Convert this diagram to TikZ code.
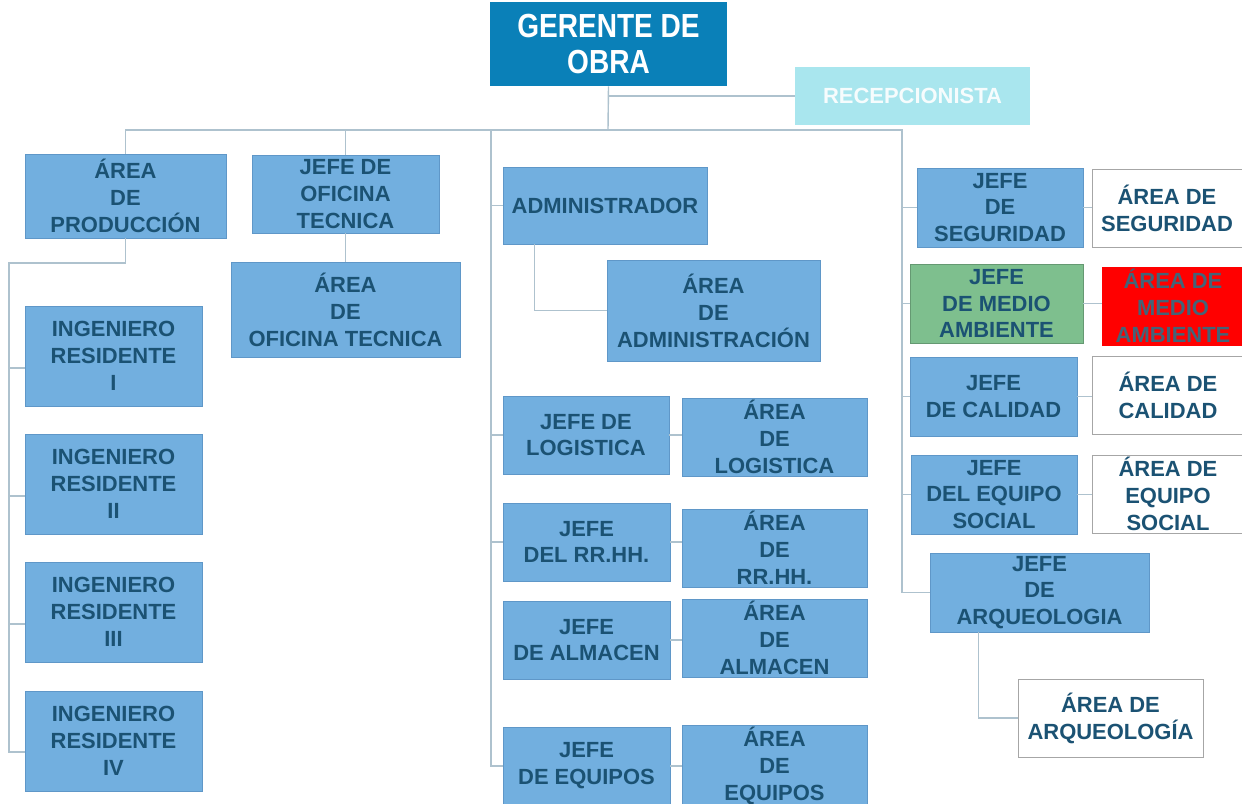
\documentclass[tikz,border=0pt]{standalone}
\usepackage{fontspec}
\setmainfont{Liberation Sans}
\newfontfamily\angosta[FakeStretch=0.84]{Liberation Sans}
\usetikzlibrary{positioning}

\definecolor{cajazul}{HTML}{72AFDF}
\definecolor{bordeazul}{HTML}{5F97C8}
\definecolor{textazul}{HTML}{1B5273}
\definecolor{gerazul}{HTML}{0A80B8}
\definecolor{recep}{HTML}{A9E6EE}
\definecolor{verde}{HTML}{7EBF8E}
\definecolor{linea}{HTML}{AEC2CE}

\tikzset{
  caja/.style 2 args={draw=bordeazul,fill=cajazul,text=textazul,align=center,
    font=\fontsize{12.5}{15.3}\selectfont\bfseries,inner sep=1pt,
    minimum width=#1*0.02cm,minimum height=#2*0.02cm},
  blanca/.style={fill=white,draw=gray!70},
  conn/.style={draw=linea,line width=0.8pt}
}

\begin{document}
\begin{tikzpicture}[x=0.02cm,y=-0.02cm]
   \useasboundingbox[fill=white] (0,0) rectangle (1242,804);
   % cabeza
   \node[caja={237}{84},fill=gerazul,draw=none,text=white,
     font=\angosta\fontsize{19}{20.5}\selectfont\bfseries] (ger) at (608.5,44) {GERENTE DE\\OBRA};
   \node[caja={235}{58},fill=recep,draw=none,text=white!90!recep] (rec) at (912.5,96) {RECEPCIONISTA};
   \coordinate (bus) at (608,130);
   \coordinate (lsp) at (9,263);
   \coordinate (msp) at (491,766);
   \coordinate (rsp) at (902,592.5);
   % produccion
   \node[caja={201}{84}] (prod) at (125.5,196) {ÁREA\\DE\\PRODUCCIÓN};
   \node[caja={177}{100}] (ing1) at (113.5,356) {INGENIERO\\RESIDENTE\\I};
   \node[caja={177}{100}] (ing2) at (113.5,484) {INGENIERO\\RESIDENTE\\II};
   \node[caja={177}{100}] (ing3) at (113.5,612) {INGENIERO\\RESIDENTE\\III};
   \node[caja={177}{100}] (ing4) at (113.5,741) {INGENIERO\\RESIDENTE\\IV};
   % oficina tecnica
   \node[caja={187}{78}] (ofi) at (345.5,194) {JEFE DE\\OFICINA\\TECNICA};
   \node[caja={229}{95}] (aofi) at (345.5,309.5) {ÁREA\\DE\\OFICINA TECNICA};
   % administracion
   \node[caja={204}{77}] (adm) at (605,205.5) {ADMINISTRADOR};
   \node[caja={213}{101}] (aadm) at (713.5,310.5) {ÁREA\\DE\\ADMINISTRACIÓN};
   \node[caja={166}{78}] (jlog) at (586,435) {JEFE DE\\LOGISTICA};
   \node[caja={185}{78}] (alog) at (774.5,437) {ÁREA\\DE\\LOGISTICA};
   \node[caja={167}{78}] (jrh) at (586.5,542) {JEFE\\DEL RR.HH.};
   \node[caja={185}{78}] (arh) at (774.5,548) {ÁREA\\DE\\RR.HH.};
   \node[caja={167}{78}] (jalm) at (586.5,640) {JEFE\\DE ALMACEN};
   \node[caja={185}{78}] (aalm) at (774.5,638) {ÁREA\\DE\\ALMACEN};
   \node[caja={167}{78}] (jequ) at (586.5,766) {JEFE\\DE EQUIPOS};
   \node[caja={185}{78}] (aequ) at (774.5,766) {ÁREA\\DE\\EQUIPOS};
   % jefaturas de la derecha
   \node[caja={166}{79}] (jseg) at (1000,207.5) {JEFE\\DE\\SEGURIDAD};
   \node[caja={150}{78},blanca] (aseg) at (1167,208) {ÁREA DE\\SEGURIDAD};
   \node[caja={173}{79},fill=verde,draw=verde!80!black] (jma) at (996.5,303.5) {JEFE\\DE MEDIO\\AMBIENTE};
   \node[caja={142}{78},fill=red,draw=red,text=textazul!60!gray] (ama) at (1173,306) {ÁREA DE\\MEDIO\\AMBIENTE};
   \node[caja={167}{79}] (jcal) at (993.5,396.5) {JEFE\\DE CALIDAD};
   \node[caja={152}{78},blanca] (acal) at (1168,395) {ÁREA DE\\CALIDAD};
   \node[caja={166}{79}] (jsoc) at (994,494.5) {JEFE\\DEL EQUIPO\\SOCIAL};
   \node[caja={152}{78},blanca] (asoc) at (1168,494) {ÁREA DE\\EQUIPO\\SOCIAL};
   \node[caja={219}{79}] (jarq) at (1039.5,592.5) {JEFE\\DE\\ARQUEOLOGIA};
   \node[caja={185}{78},blanca] (aarq) at (1110.5,718) {ÁREA DE\\ARQUEOLOGÍA};
   % lineas
   \begin{scope}[every path/.style={conn}]
    \draw (ger.south) -- (bus);
    \draw (ger.south |- rec.west) -- (rec.west);
    \draw (prod.north) |- (bus) -| (rsp) -- (jarq.west);
    \draw (ofi.north) -- (ofi.north |- bus);
    \draw (msp |- bus) -- (msp) -- (jequ.west);
    \draw (prod.south) |- (lsp) |- ([yshift=-0.22cm]ing4.west);
    \foreach \n in {ing1,ing2,ing3}
     \draw ([yshift=-0.24cm]\n.west -| lsp) -- ([yshift=-0.24cm]\n.west);
    \draw (ofi.south) -- (aofi.north);
    \foreach \n in {adm,jlog,jrh}
     \draw (\n.west -| msp) -- (\n.west);
    \draw ([xshift=0.64cm]adm.south west) |- (aadm.west);
    \foreach \n in {jseg,jma,jcal,jsoc}
     \draw (\n.west -| rsp) -- (\n.west);
    \foreach \a/\b in {jlog/alog,jrh/arh,jalm/aalm,jequ/aequ,jseg/aseg,jma/ama,jcal/acal,jsoc/asoc}
     \draw (\a.east) -- (\a.east -| \b.west);
    \draw ([xshift=0.98cm]jarq.south west) |- (aarq.west);
   \end{scope}
  \end{tikzpicture}
\end{document}
